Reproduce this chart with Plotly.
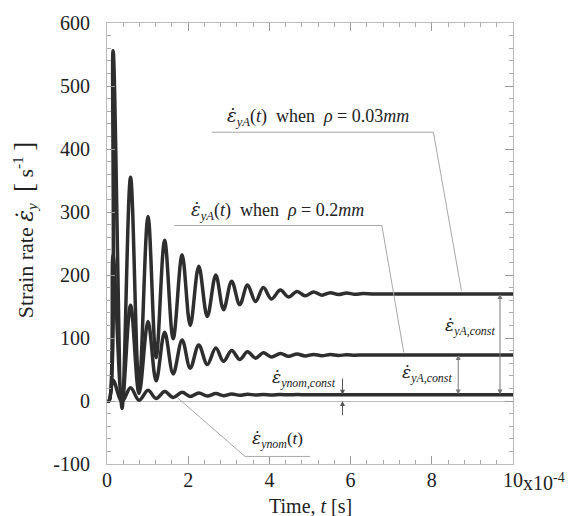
import plotly.graph_objects as go

# time in units of 1e-4 s (peaks / troughs)
t_e4 = [0, 0.05, 0.15, 0.37, 0.58, 0.79, 1.01, 1.21, 1.42, 1.63, 1.85, 2.05, 2.26, 2.47,
        2.68, 2.87, 3.07, 3.27, 3.46, 3.66, 3.85, 4.05, 4.27, 4.47, 4.68, 4.88, 5.09,
        5.29, 5.5, 5.7, 5.9, 6.1, 6.3, 6.6, 10]
rate_rho003 = [0, 0, 556, -12, 355, 22, 293, 69, 255, 99, 232, 120, 214, 134,
               200, 145, 190, 153, 184, 158, 180, 162, 176, 165, 174, 167, 173,
               168, 172, 169, 171.5, 169.5, 170.5, 170, 170]
rate_rho02 = [0, 0, 232, -2, 152, 12, 126, 32, 109, 43, 97, 52, 89, 58,
              84, 63, 80, 66, 78, 68, 76.5, 70, 75.5, 71, 74.5, 71.5, 74,
              72, 73.7, 72.3, 73.3, 72.7, 73, 73, 73]
rate_nom = [0, 0, 33, -1, 21, 1, 17, 4, 15, 5.7, 13.7, 7, 12.6, 7.8,
            11.8, 8.5, 11.2, 9, 10.8, 9.4, 10.5, 9.7, 10.3, 9.8, 10.2, 10, 10,
            10, 10, 10, 10, 10, 10, 10, 10]

x_ticks = [0, 2, 4, 6, 8, 10]
x_ticktext = ["0", "2", "4", "6", "8", "10"]
y_ticks = [-100, 0, 100, 200, 300, 400, 500, 600]
y_ticktext = ["-100", "0", "100", "200", "300", "400", "500", "600"]

const_A, const_B, const_nom = 170, 73, 10

FONT = "Liberation Serif"
LINE = "#2e2e2e"
GRAY = "#a8a8a8"

fig = go.Figure()
for y in (rate_rho003, rate_rho02, rate_nom):
    fig.add_trace(go.Scatter(x=t_e4, y=y, mode="lines",
                             line=dict(color=LINE, width=3.5, shape="spline", smoothing=1.0),
                             showlegend=False, hoverinfo="skip"))

eps = "<span style=\"font-family:'DejaVu Serif'\"><i>ε̇</i></span>"
ann = []
def txt(x, y, text, size, **kw):
    d = dict(x=x, y=y, xref="x", yref="y", xanchor="center", yanchor="middle",
             showarrow=False, text=text, font=dict(size=size, family=FONT))
    d.update(kw)
    ann.append(d)

txt(5.2, 428, eps + "<sub><i>yA</i></sub>(<i>t</i>)  when  <i>ρ</i> = 0.03<i>mm</i>", 18, yanchor="bottom")
txt(4.2, 280, eps + "<sub><i>yA</i></sub>(<i>t</i>)  when  <i>ρ</i> = 0.2<i>mm</i>", 18, yanchor="bottom")
txt(8.93, 119, eps + "<sub><i>yA,const</i></sub>", 17)
txt(7.87, 44, eps + "<sub><i>yA,const</i></sub>", 17)
txt(4.84, 36, eps + "<sub><i>ynom,const</i></sub>", 17)
txt(4.2, -61, eps + "<sub><i>ynom</i></sub>(<i>t</i>)", 17)

# dimension arrows
for xa, y0, y1 in [(9.68, 8, const_A), (8.65, 8, const_B)]:
    ann.append(dict(x=xa, y=y1, ax=xa, ay=y0, xref="x", yref="y", axref="x", ayref="y",
                    text="", showarrow=True, arrowhead=2, arrowside="end+start",
                    arrowsize=1, arrowwidth=1, arrowcolor="#777"))
ann.append(dict(x=5.8, y=const_nom, ax=5.8, ay=38, xref="x", yref="y", axref="x", ayref="y",
                text="", showarrow=True, arrowhead=2, arrowsize=1, arrowwidth=1, arrowcolor="#555"))
ann.append(dict(x=5.8, y=0, ax=5.8, ay=-25, xref="x", yref="y", axref="x", ayref="y",
                text="", showarrow=True, arrowhead=2, arrowsize=1, arrowwidth=1, arrowcolor="#555"))
# axis titles and exponent
ann.append(dict(x=0.5, y=-0.096, xref="paper", yref="paper", xanchor="center", yanchor="middle",
                showarrow=False, text="Time, <i>t</i> [s]", font=dict(size=20, family=FONT)))
ann.append(dict(x=-0.202, y=0.327, xref="paper", yref="paper", xanchor="center", yanchor="bottom",
                showarrow=False, textangle=-90,
                text="Strain rate " + eps + "<sub><i>y</i></sub>  <span style='font-size:27px'>[</span> s<sup>-1</sup> <span style='font-size:27px'>]</span>",
                font=dict(size=22, family=FONT)))
ann.append(dict(x=10, y=-0.04, xref="x", yref="paper", xanchor="left", yanchor="middle", xshift=8,
                showarrow=False, text="x10<sup>-4</sup>", font=dict(size=20, family=FONT)))

shapes = []
leaders = [
    [(2.58, 426.6), (8.04, 426.6), (8.73, 175)],
    [(1.66, 278.6), (6.77, 278.6), (7.31, 77)],
    [(1.74, 5), (3.40, -88), (5.00, -88)],
]
for pts in leaders:
    path = "M " + " L ".join(f"{x},{y}" for x, y in pts)
    shapes.append(dict(type="path", path=path, xref="x", yref="y",
                       line=dict(color=GRAY, width=1)))

tickfont = dict(size=20, family=FONT, color="#222")
fig.update_layout(
    width=570, height=516,
    margin=dict(l=107, r=57, t=15, b=52),
    paper_bgcolor="white", plot_bgcolor="white",
    font=dict(family=FONT, size=20, color="#222"),
    annotations=ann, shapes=shapes,
    xaxis=dict(range=[0, 10], tickvals=x_ticks, ticktext=x_ticktext,
               showgrid=False, zeroline=False, showline=True, linecolor="#bbb", linewidth=1,
               mirror="ticks", ticks="inside", ticklen=8, tickcolor="#999",
               minor=dict(ticks="inside", ticklen=4, dtick=0.4, tickcolor="#aaa"),
               tickfont=tickfont, ticklabelstandoff=-2),
    yaxis=dict(range=[-100, 600], tickvals=y_ticks, ticktext=y_ticktext,
               showgrid=False, zeroline=True, zerolinecolor="#bbb", zerolinewidth=1,
               showline=True, linecolor="#bbb", linewidth=1,
               mirror="ticks", ticks="inside", ticklen=8, tickcolor="#999",
               minor=dict(ticks="inside", ticklen=4, dtick=20, tickcolor="#aaa"),
               tickfont=tickfont, ticklabelstandoff=12),
)

fig.write_html("out.html")
